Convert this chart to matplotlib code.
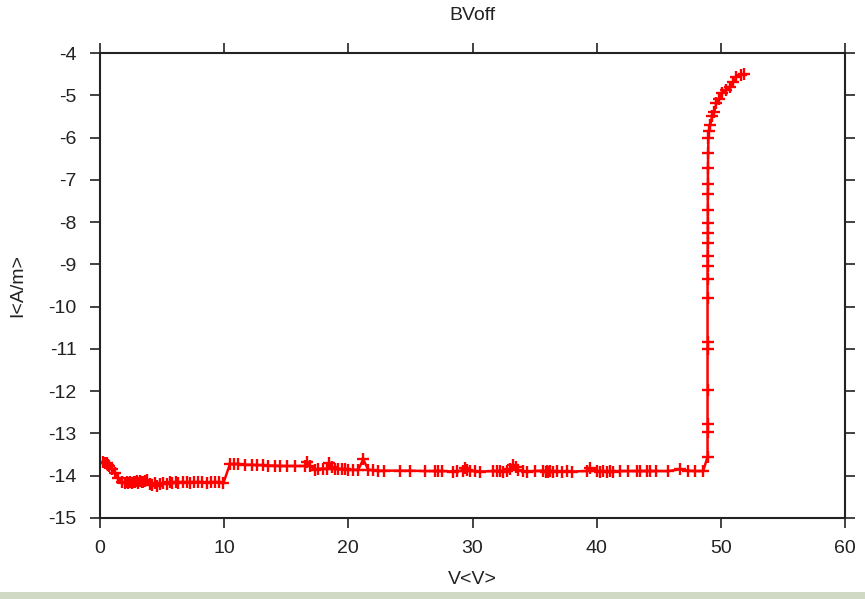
import matplotlib
matplotlib.use("Agg")
import matplotlib.pyplot as plt
from matplotlib.patches import Rectangle

plt.rcParams['font.family'] = ['Liberation Sans', 'DejaVu Sans']
plt.rcParams['axes.unicode_minus'] = False

title = "BVoff"
xlabel = "V<V>"
ylabel = "I<A/m>"
xticks = [0, 10, 20, 30, 40, 50, 60]
yticks = [-4, -5, -6, -7, -8, -9, -10, -11, -12, -13, -14, -15]

# segment 1: 0 - 10 V
V1 = [0.27, 0.40, 0.54, 0.65, 0.75, 0.94, 1.21, 1.48, 1.74, 2.01,
      2.15, 2.28, 2.40, 2.55, 2.70, 2.82, 3.00, 3.09, 3.25, 3.35,
      3.50, 3.62, 3.81, 4.00, 4.16, 4.40, 4.56, 4.83, 5.10, 5.42,
      5.60, 5.77, 6.12, 6.31, 6.71, 6.98, 7.25, 7.57, 7.92, 8.24,
      8.59, 8.91, 9.26, 9.58, 9.93]
I1 = [-13.67, -13.70, -13.71, -13.75, -13.77, -13.83, -13.94, -14.06, -14.14, -14.18,
      -14.15, -14.18, -14.14, -14.17, -14.14, -14.16, -14.13, -14.18, -14.12, -14.16,
      -14.14, -14.12, -14.10, -14.19, -14.22, -14.18, -14.25, -14.20, -14.18, -14.20,
      -14.16, -14.18, -14.15, -14.17, -14.16, -14.16, -14.17, -14.16, -14.16, -14.16,
      -14.17, -14.16, -14.16, -14.16, -14.18]

# segment 2: 10 - 48.6 V
V2 = [10.47, 10.79, 11.14, 11.67, 12.21, 12.62, 13.15, 13.55, 14.09, 14.49,
      15.03, 15.70, 16.51, 16.69, 16.91, 17.31, 17.58, 17.98, 18.25, 18.46,
      18.65, 18.92, 19.19, 19.46, 19.73, 19.99, 20.40, 20.80, 21.20, 21.60,
      22.00, 22.40, 22.87, 24.15, 24.96, 26.17, 26.97, 27.24, 27.51, 28.45,
      28.77, 29.20, 29.39, 29.58, 29.79, 30.19, 30.60, 31.67, 31.94, 32.21,
      32.47, 32.74, 33.01, 33.28, 33.49, 33.68, 34.08, 34.35, 35.02, 35.69,
      35.91, 35.96, 36.10, 36.23, 36.50, 36.77, 37.17, 37.58, 37.98, 39.19,
      39.45, 39.99, 40.26, 40.53, 40.80, 41.06, 41.33, 41.87, 42.54, 43.21,
      43.48, 44.02, 44.28, 44.77, 45.76, 46.70, 47.37, 47.91, 48.58]
I2 = [-13.72, -13.73, -13.72, -13.74, -13.74, -13.75, -13.75, -13.76, -13.76, -13.77,
      -13.77, -13.77, -13.77, -13.67, -13.76, -13.86, -13.84, -13.83, -13.84, -13.71,
      -13.80, -13.84, -13.85, -13.84, -13.85, -13.86, -13.86, -13.86, -13.61, -13.86,
      -13.87, -13.88, -13.88, -13.88, -13.88, -13.89, -13.89, -13.89, -13.89, -13.90,
      -13.89, -13.88, -13.82, -13.86, -13.89, -13.89, -13.90, -13.89, -13.89, -13.89,
      -13.90, -13.88, -13.84, -13.74, -13.80, -13.87, -13.89, -13.90, -13.89, -13.88,
      -13.90, -13.89, -13.91, -13.88, -13.90, -13.89, -13.90, -13.89, -13.90, -13.89,
      -13.82, -13.88, -13.90, -13.89, -13.91, -13.89, -13.90, -13.89, -13.89, -13.89,
      -13.89, -13.89, -13.89, -13.89, -13.89, -13.85, -13.88, -13.89, -13.89]

# segment 3: breakdown
V3 = [48.93, 48.93, 48.93, 48.93, 48.93, 48.93, 48.93, 48.93, 48.93, 48.93,
      48.95, 48.95, 48.95, 48.95, 48.95, 48.96, 48.96, 48.98, 49.00, 49.02,
      49.15, 49.30, 49.45, 49.65, 49.86, 50.10, 50.45, 50.70, 51.00, 51.25,
      51.60, 51.85]
I3 = [-13.55, -12.97, -12.78, -11.97, -11.01, -10.84, -9.80, -9.35, -9.04, -8.80,
      -8.49, -8.26, -8.02, -7.71, -7.34, -7.10, -6.72, -6.37, -6.01, -5.85,
      -5.70, -5.49, -5.40, -5.18, -5.09, -4.95, -4.88, -4.80, -4.69, -4.57,
      -4.52, -4.50]

V = V1 + V2 + V3
I = I1 + I2 + I3

fig = plt.figure(figsize=(8.65, 5.99), dpi=100)
fig.patches.append(Rectangle((0, 0), 1, 7/599, transform=fig.transFigure,
                             facecolor='#cfd9c3', edgecolor='none', zorder=0))
ax = fig.add_axes([100/865, 81/599, 745/865, 465/599])

ax.plot(V, I, color='#ff0000', linewidth=1.8, marker='+', markersize=9,
        markeredgewidth=1.7)

ax.set_xlim(0, 60)
ax.set_ylim(-15, -4)
ax.set_xticks(xticks)
ax.set_yticks(yticks)
ax.tick_params(direction='out', length=7, width=1.2, labelsize=14, colors='#222222',
               top=True, right=True, labeltop=False, labelright=False)
ax.tick_params(axis='x', pad=9)
ax.tick_params(axis='y', pad=10)
for s in ax.spines.values():
    s.set_linewidth(1.5)
    s.set_color('#222222')

ax.set_title(title, fontsize=14, pad=24, color='#222222')
ax.set_xlabel(xlabel, fontsize=14, labelpad=10, color='#222222')
ax.set_ylabel(ylabel, fontsize=14, labelpad=16, color='#222222')

fig.savefig("out.png", dpi=100)
